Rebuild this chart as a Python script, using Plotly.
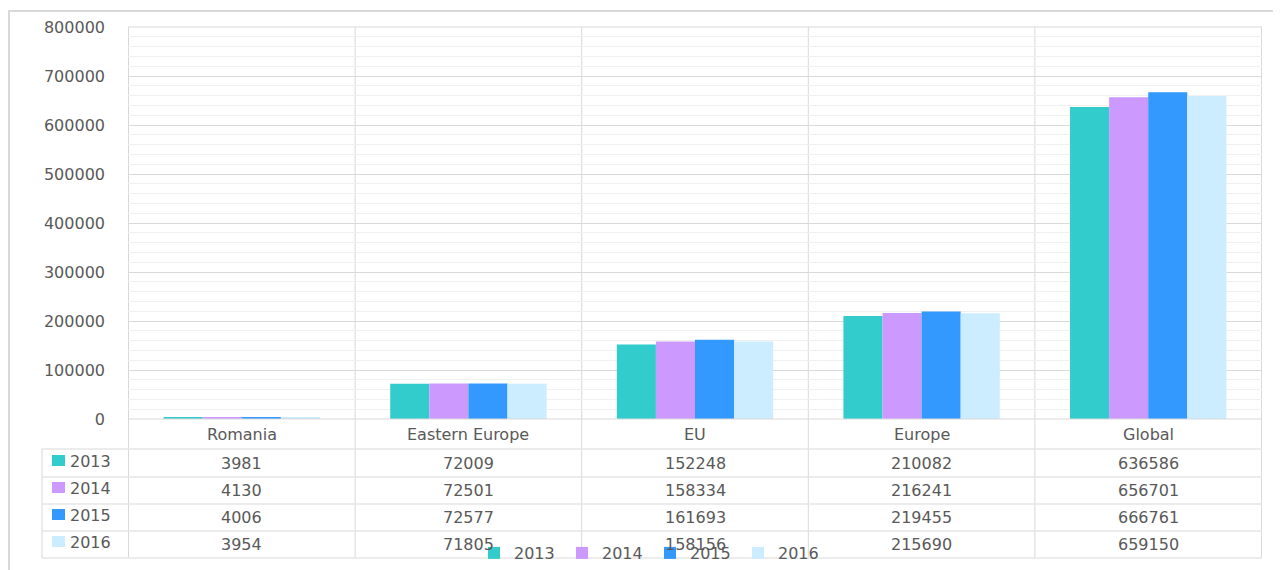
import plotly.graph_objects as go

categories = ["Romania", "Eastern Europe", "EU", "Europe", "Global"]
years = ["2013", "2014", "2015", "2016"]
v2013 = [3981, 72009, 152248, 210082, 636586]
v2014 = [4130, 72501, 158334, 216241, 656701]
v2015 = [4006, 72577, 161693, 219455, 666761]
v2016 = [3954, 71805, 158156, 215690, 659150]
series = [v2013, v2014, v2015, v2016]
colors = ["#33CCCC", "#CC99FF", "#3399FF", "#CCECFF"]
y_ticks = [0, 100000, 200000, 300000, 400000, 500000, 600000, 700000, 800000]

# page has an 8px body margin; work in page pixels and shift
O = 8
W, H = 1281 - O, 570 - O
PL, PR, PT, PB = 128, 1262, 27, 419  # plot area in page pixels
FONT = "DejaVu Sans"
FS = 16
TXT = "#595959"
GRID = "#D9D9D9"


def px(x):
    return (x - PL) / (PR - PL)


def py(y):
    return (PB - y) / (PB - PT)


def cx(x):
    return (x - O) / W


def cy(y):
    return 1 - (y - O) / H


fig = go.Figure()
for name, vals, col in zip(years, series, colors):
    fig.add_trace(go.Bar(x=categories, y=vals, name=name,
                         marker=dict(color=col, line=dict(width=0))))

shapes = []
annotations = []

# outer chart border (top and left)
shapes.append(dict(type="line", xref="paper", yref="paper",
                   x0=px(8), x1=px(1300), y0=py(11), y1=py(11),
                   line=dict(color="#D9D9D9", width=2)))
shapes.append(dict(type="line", xref="paper", yref="paper",
                   x0=px(9), x1=px(9), y0=py(11), y1=py(600),
                   line=dict(color="#D9D9D9", width=2)))

# vertical category separators through plot and table
for k in range(len(categories) + 1):
    shapes.append(dict(type="line", xref="x", yref="paper",
                       x0=k - 0.5, x1=k - 0.5, y0=py(558), y1=1,
                       line=dict(color=GRID, width=1), layer="below"))
shapes.append(dict(type="line", xref="paper", yref="paper",
                   x0=0, x1=1, y0=1, y1=1, line=dict(color=GRID, width=1)))

# table rows
row_lines = [449, 477, 504, 531, 558]
shapes.append(dict(type="line", xref="paper", yref="paper",
                   x0=0, x1=1, y0=0, y1=0, line=dict(color=GRID, width=1)))
for yl in row_lines:
    shapes.append(dict(type="line", xref="paper", yref="paper",
                       x0=px(42), x1=1, y0=py(yl), y1=py(yl),
                       line=dict(color="#E6E6E6", width=1.5)))
shapes.append(dict(type="line", xref="paper", yref="paper",
                   x0=px(42), x1=px(42), y0=py(449), y1=py(558),
                   line=dict(color="#E6E6E6", width=1.5)))

# category labels
for cat in categories:
    annotations.append(dict(x=cat, xref="x", y=py(434), yref="paper",
                            text=cat, showarrow=False,
                            font=dict(family=FONT, size=FS, color=TXT),
                            xanchor="center", yanchor="middle"))

row_centers = [463, 490, 517, 544]
for yr, vals, col, rc in zip(years, series, colors, row_centers):
    shapes.append(dict(type="rect", xref="paper", yref="paper",
                       x0=px(52), x1=px(65), y0=py(rc + 3), y1=py(rc - 8),
                       fillcolor=col, line=dict(width=0)))
    annotations.append(dict(x=px(68), xref="paper", y=py(rc - 2), yref="paper",
                            text=yr, showarrow=False, xanchor="left",
                            yanchor="middle",
                            font=dict(family=FONT, size=FS, color=TXT)))
    for cat, v in zip(categories, vals):
        annotations.append(dict(x=cat, xref="x", y=py(rc), yref="paper",
                                text=str(v), showarrow=False,
                                xanchor="center", yanchor="middle",
                                font=dict(family=FONT, size=FS, color=TXT)))

fig.update_layout(
    width=W, height=H,
    margin=dict(l=PL - O, r=W - (PR - O), t=PT - O, b=H - (PB - O),
                autoexpand=False),
    paper_bgcolor="white", plot_bgcolor="white",
    barmode="group", bargap=0.31, bargroupgap=0,
    font=dict(family=FONT, size=FS, color=TXT),
    showlegend=True,
    legend=dict(orientation="h", x=cx(474), xanchor="left", xref="container",
                y=cy(553), yanchor="middle", yref="container",
                bgcolor="rgba(0,0,0,0)",
                font=dict(family=FONT, size=FS, color=TXT),
                itemwidth=30, tracegroupgap=0, entrywidth=43),
    xaxis=dict(showticklabels=False, showgrid=False, zeroline=False,
               showline=False, ticks=""),
    yaxis=dict(range=[0, 800000], tickvals=y_ticks,
               ticktext=[str(t) for t in y_ticks],
               showgrid=True, gridcolor=GRID, gridwidth=1,
               minor=dict(dtick=20000, showgrid=True, gridcolor="#F0F0F0",
                          gridwidth=1),
               zeroline=False, showline=False, ticks="",
               ticklabelstandoff=22,
               tickfont=dict(family=FONT, size=FS, color=TXT)),
    shapes=shapes, annotations=annotations,
)

fig.write_html("out.html")
